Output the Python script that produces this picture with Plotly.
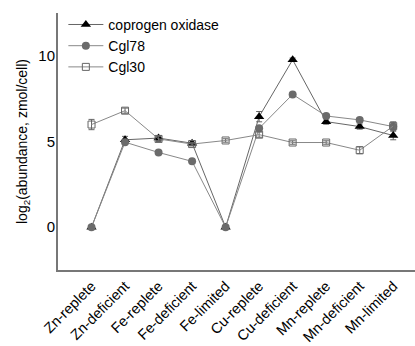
import plotly.graph_objects as go

categories = ["Zn-replete", "Zn-deficient", "Fe-replete", "Fe-deficient", "Fe-limited",
              "Cu-replete", "Cu-deficient", "Mn-replete", "Mn-deficient", "Mn-limited"]
coprogen = [0.0, 5.1, 5.2, 4.9, 0.0, 6.45, 9.77, 6.16, 5.87, 5.35]
coprogen_err = [0.05, 0.2, 0.15, 0.15, 0.05, 0.3, 0.1, 0.15, 0.15, 0.25]
cgl78 = [0.0, 4.96, 4.36, 3.84, 0.0, 5.77, 7.75, 6.49, 6.26, 5.87]
cgl78_err = [0.05, 0.1, 0.1, 0.1, 0.05, 0.15, 0.1, 0.1, 0.1, 0.1]
cgl30 = [5.99, 6.8, 5.15, 4.85, 5.06, 5.4, 4.94, 4.94, 4.49, 5.9]
cgl30_err = [0.3, 0.15, 0.15, 0.1, 0.1, 0.15, 0.1, 0.1, 0.2, 0.25]

fig = go.Figure()
fig.add_trace(go.Scatter(
    x=categories, y=coprogen, name="coprogen oxidase", mode="lines+markers",
    line=dict(color="#666666", width=1),
    marker=dict(symbol="triangle-up", size=9, color="black"),
    error_y=dict(type="data", array=coprogen_err, color="#666666", thickness=1, width=3),
))
fig.add_trace(go.Scatter(
    x=categories, y=cgl78, name="Cgl78", mode="lines+markers",
    line=dict(color="#888888", width=1),
    marker=dict(symbol="circle", size=8, color="#6b6b6b"),
    error_y=dict(type="data", array=cgl78_err, color="#777777", thickness=1, width=3),
))
fig.add_trace(go.Scatter(
    x=categories, y=cgl30, name="Cgl30", mode="lines+markers",
    line=dict(color="#888888", width=1),
    marker=dict(symbol="square-open", size=7, color="#666666", line=dict(width=1)),
    error_y=dict(type="data", array=cgl30_err, color="#666666", thickness=1, width=3),
))

fig.update_layout(
    width=415, height=346,
    margin=dict(l=58, r=0, t=13, b=76),
    paper_bgcolor="white", plot_bgcolor="white",
    font=dict(family="Liberation Sans, Arial, sans-serif", color="black", size=14),
    legend=dict(x=0.015, y=1.016, xanchor="left", yanchor="top", bgcolor="rgba(0,0,0,0)",
                font=dict(size=14), itemwidth=35, tracegroupgap=0),
    showlegend=True,
)
fig.update_xaxes(
    type="category", categoryorder="array", categoryarray=categories,
    range=[-1.0, 9.65], showline=True, linecolor="#777777", linewidth=2,
    showgrid=False, zeroline=False, ticks="", tickangle=-45, automargin=False,
    tickfont=dict(size=14.5),
)
fig.update_yaxes(
    range=[-2.5, 12.5], tickvals=[0, 5, 10], showline=True, linecolor="#777777", linewidth=2,
    showgrid=False, zeroline=False, ticks="", tickfont=dict(size=15), ticklabelstandoff=-2,
    automargin=False,
    title=dict(text="log<sub>2</sub>(abundance, zmol/cell)", font=dict(size=14), standoff=7),
)

fig.write_html("out.html")
